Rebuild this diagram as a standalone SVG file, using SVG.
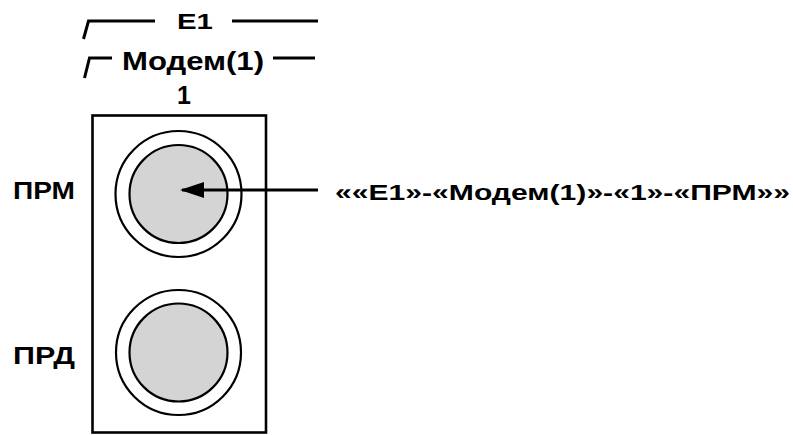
<svg xmlns="http://www.w3.org/2000/svg" width="793" height="435" viewBox="0 0 793 435">
  <style>
    .lbl { font-family: "Liberation Sans", Arial, sans-serif; font-weight: bold; fill: #000; }
    .rule { stroke: #000; stroke-width: 3; fill: none; stroke-linecap: butt; }
    .ring { fill: #fff; stroke: #000; stroke-width: 2.2; }
    .core { fill: #d4d4d4; stroke: #000; stroke-width: 2.2; }
  </style>
  <defs>
    <marker id="head" viewBox="0 0 24 16" refX="22" refY="8" markerWidth="24" markerHeight="16" markerUnits="userSpaceOnUse" orient="auto">
      <path d="M24,8 L0,0 L0,16 Z" fill="#000"/>
    </marker>
  </defs>
  <rect width="793" height="435" fill="#fff"/>

  <!-- header brackets -->
  <g id="header-e1">
    <path class="rule" d="M83.5,39 L88.5,21 L155,21"/>
    <line class="rule" x1="232" y1="21" x2="318" y2="21"/>
    <text class="lbl" x="177" y="28.5" font-size="22" textLength="36" lengthAdjust="spacingAndGlyphs">E1</text>
  </g>
  <g id="header-modem">
    <path class="rule" d="M84.5,78 L89.5,58 L112,58"/>
    <line class="rule" x1="273" y1="58" x2="315" y2="58"/>
    <text class="lbl" x="122" y="69.5" font-size="26" textLength="142" lengthAdjust="spacingAndGlyphs">Модем(1)</text>
  </g>
  <g id="header-port">
    <text class="lbl" x="184" y="104" font-size="25" text-anchor="middle">1</text>
  </g>

  <!-- panel -->
  <g id="panel">
    <rect x="92.5" y="115.5" width="173.5" height="317" fill="#fff" stroke="#000" stroke-width="2.6"/>
  </g>

  <g id="socket-rx">
    <circle class="ring" cx="178.5" cy="194" r="63"/>
    <circle class="core" cx="178.5" cy="194" r="49"/>
    <text class="lbl" x="13" y="199" font-size="24" textLength="62" lengthAdjust="spacingAndGlyphs">ПРМ</text>
  </g>

  <g id="socket-tx">
    <circle class="ring" cx="178.5" cy="352.5" r="62.5"/>
    <circle class="core" cx="178.5" cy="352.5" r="49"/>
    <text class="lbl" x="13" y="364" font-size="24" textLength="62" lengthAdjust="spacingAndGlyphs">ПРД</text>
  </g>

  <g id="designation">
    <text class="lbl" x="335" y="199.5" font-size="22" textLength="455" lengthAdjust="spacingAndGlyphs">««E1»-«Модем(1)»-«1»-«ПРМ»»</text>
  </g>

  <!-- connectors -->
  <g id="connectors">
    <line x1="318" y1="190" x2="182" y2="190" stroke="#000" stroke-width="3" marker-end="url(#head)"/>
  </g>
</svg>
